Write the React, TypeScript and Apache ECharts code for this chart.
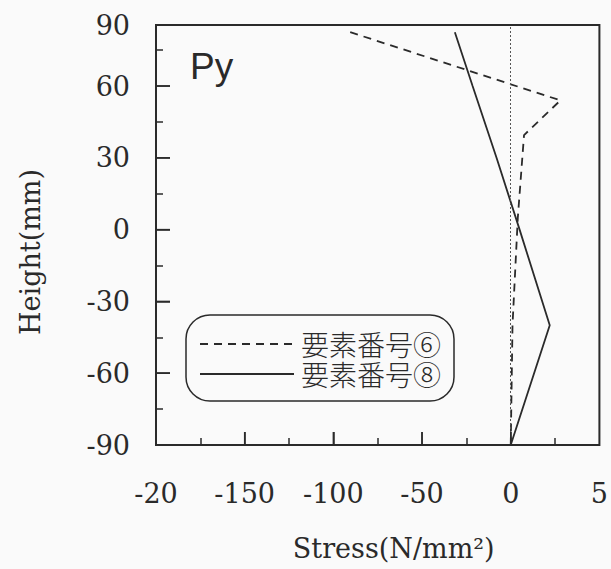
import React, { useEffect, useRef } from "react";
import * as echarts from "echarts";

// ---- data ----
const seriesNames = ["要素番号⑥", "要素番号⑧"];
const heights6 = [82.5, 54, 39.5, 5, -40, -90];
const stress6 = [-90.5, 28, 7.5, 4, 1, 0];
const heights8 = [82.5, 60, 30, 0, -40, -90];
const stress8 = [-31.5, -21.5, -8, 5, 22, 0];

const xMin = -200;
const xMax = 50;
const xTickValues = [-200, -150, -100, -50, 0, 50];
const xTickLabels = ["-20", "-150", "-100", "-50", "0", "5"];
const xMajorTicks = [-150, -100, -50, 0];
const xMinorTicks = [-175, -125, -75, -25, 25];
const yMin = -90;
const yMax = 85.5;
const yLabelValues = [-90, -60, -30, 0, 30, 60, yMax];
const yTickLabels = ["-90", "-60", "-30", "0", "30", "60", "90"];
const yMajorTicks = [-60, -30, 0, 30, 60];
const yMinorTicks = [-75, -45, -15, 15, 45, 75];

const INK = "#2a2a2a";
const SERIF = "'DejaVu Serif', 'Liberation Serif', serif";

export default function App() {
  const ref = useRef<HTMLDivElement>(null);
  useEffect(() => {
    if (!ref.current) return;
    const chart = echarts.init(ref.current, null, { renderer: "svg" });
    const zip = (xs: number[], ys: number[]) => xs.map((x, i) => [x, ys[i]]);
    const tickAxisX = (values: number[], length: number) => ({
      type: "value",
      min: xMin,
      max: xMax,
      position: "bottom",
      axisLine: { show: false, onZero: false },
      axisTick: {
        show: true,
        inside: true,
        length,
        customValues: values,
        lineStyle: { color: INK, width: 1.5 },
      },
      axisLabel: { show: false },
      splitLine: { show: false },
    });
    const tickAxisY = (values: number[], length: number) => ({
      type: "value",
      min: yMin,
      max: yMax,
      position: "left",
      axisLine: { show: false, onZero: false },
      axisTick: {
        show: true,
        inside: true,
        length,
        customValues: values,
        lineStyle: { color: INK, width: 1.5 },
      },
      axisLabel: { show: false },
      splitLine: { show: false },
    });
    // major ticks drawn through the axes' own scales
    const tickSeries = (data: number[][], dx: number, dy: number) => ({
      type: "custom",
      silent: true,
      clip: false,
      z: 5,
      data,
      renderItem: (_p: any, api: any) => {
        const pt = api.coord([api.value(0), api.value(1)]);
        return {
          type: "line",
          shape: { x1: pt[0], y1: pt[1], x2: pt[0] + dx, y2: pt[1] + dy },
          style: { stroke: INK, lineWidth: 1.5 },
        };
      },
    });
    chart.setOption({
      animation: false,
      backgroundColor: "#fafafa",
      grid: {
        left: 156,
        right: 8,
        top: 25,
        bottom: 124,
        show: true,
        borderColor: INK,
        borderWidth: 2,
        backgroundColor: "transparent",
      },
      legend: {
        orient: "vertical",
        left: 186,
        top: 315,
        padding: [15, 13, 13, 13],
        itemWidth: 94,
        itemHeight: 14,
        itemGap: 2,
        borderColor: INK,
        borderWidth: 1.5,
        borderRadius: 24,
        data: seriesNames,
        itemStyle: { opacity: 0 },
        textStyle: {
          fontFamily: "'Noto Sans CJK JP', sans-serif",
          fontSize: 28,
          lineHeight: 28,
          fontWeight: 300,
          color: INK,
          padding: [0, 0, 0, 2],
        },
      },
      xAxis: [
        {
          type: "value",
          min: xMin,
          max: xMax,
          interval: 50,
          name: "Stress(N/mm²)",
          nameLocation: "middle",
          nameGap: 90,
          nameTextStyle: {
            fontFamily: SERIF,
            fontSize: 27,
            color: INK,
            padding: [0, 0, 0, 32],
          },
          axisLine: { show: false, onZero: false },
          axisTick: { show: false },
          splitLine: { show: false },
          axisLabel: {
            margin: 35,
            fontFamily: SERIF,
            fontSize: 27,
            color: INK,
            showMinLabel: true,
            showMaxLabel: true,
            formatter: (v: number) => {
              const i = xTickValues.indexOf(v);
              return i >= 0 ? xTickLabels[i] : "";
            },
          },
        },
        tickAxisX(xMajorTicks, 13),
        tickAxisX(xMinorTicks, 7),
      ],
      yAxis: [
        {
          type: "value",
          min: yMin,
          max: yMax,
          name: "Height(mm)",
          nameLocation: "middle",
          nameGap: 112,
          nameRotate: 90,
          nameTextStyle: {
            fontFamily: SERIF,
            fontSize: 27,
            color: INK,
            padding: [0, 34, 0, 0],
          },
          axisLine: { show: false, onZero: false },
          axisTick: { show: false },
          splitLine: { show: false },
          axisLabel: {
            margin: 26,
            fontFamily: SERIF,
            fontSize: 27,
            color: INK,
            customValues: yLabelValues,
            formatter: (v: number) => {
              const i = yLabelValues.indexOf(v);
              return i >= 0 ? yTickLabels[i] : "";
            },
          },
        },
        tickAxisY(yMajorTicks, 14),
        tickAxisY(yMinorTicks, 7),
      ],
      graphic: [
        {
          type: "text",
          left: 190,
          top: 48,
          style: {
            text: "Py",
            fontFamily: "'Liberation Sans', Arial, sans-serif",
            fontSize: 37,
            fill: INK,
          },
        },
      ],
      series: [
        {
          name: seriesNames[0],
          type: "line",
          symbol: "none",
          data: zip(stress6, heights6),
          lineStyle: { color: INK, width: 1.8, type: [8, 6] },
          itemStyle: { color: INK },
          markLine: {
            silent: true,
            symbol: ["none", "none"],
            label: { show: false },
            lineStyle: { color: "#555", width: 1, type: [2, 2] },
            data: [{ xAxis: 0 }],
          },
        },
        {
          name: seriesNames[1],
          type: "line",
          symbol: "none",
          data: zip(stress8, heights8),
          lineStyle: { color: INK, width: 1.8, type: "solid" },
          itemStyle: { color: INK },
        },
        tickSeries(xMajorTicks.map((v) => [v, yMin]), 0, -13),
        tickSeries(yMajorTicks.map((v) => [xMin, v]), 14, 0),
      ],
    });
    return () => chart.dispose();
  }, []);
  return (
    <div
      ref={ref}
      style={{ position: "fixed", left: 0, top: 0, width: 611, height: 569 }}
    />
  );
}
